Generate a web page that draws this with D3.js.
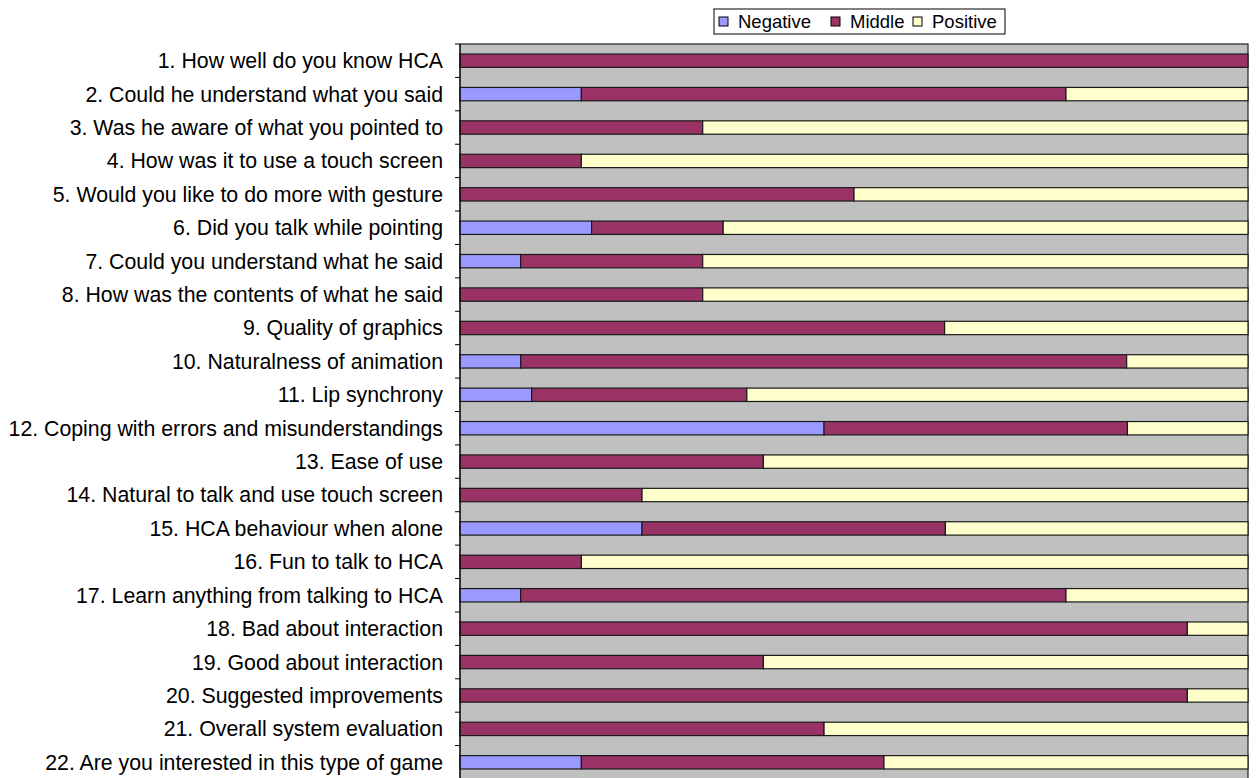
<!DOCTYPE html>
<html>
<head>
<meta charset="utf-8">
<script src="https://cdn.jsdelivr.net/npm/d3@7"></script>
<style>
  body { margin: 0; background: #fff; }
  svg { display: block; font-family: "Liberation Sans", Arial, Helvetica, sans-serif; }
</style>
</head>
<body>
<div id="chart"></div>
<script>
// questions, top to bottom
const questions = [
  "1. How well do you know HCA",
  "2. Could he understand what you said",
  "3. Was he aware of what you pointed to",
  "4. How was it to use a touch screen",
  "5. Would you like to do more with gesture",
  "6. Did you talk while pointing",
  "7. Could you understand what he said",
  "8. How was the contents of what he said",
  "9. Quality of graphics",
  "10. Naturalness of animation",
  "11. Lip synchrony",
  "12. Coping with errors and misunderstandings",
  "13. Ease of use",
  "14. Natural to talk and use  touch screen",
  "15. HCA behaviour when alone",
  "16. Fun to talk to HCA",
  "17. Learn anything from talking to HCA",
  "18. Bad about interaction",
  "19. Good about interaction",
  "20. Suggested improvements",
  "21. Overall system evaluation",
  "22. Are you interested in this type of game"
];

// share of answers, percent
const negative = [0, 15.4, 0, 0, 0, 16.7, 7.7, 0, 0, 7.7, 9.1, 46.2, 0, 0, 23.1, 0, 7.7, 0, 0, 0, 0, 15.4];
const middle   = [100, 61.5, 30.8, 15.4, 50, 16.7, 23.1, 30.8, 61.5, 76.9, 27.3, 38.5, 38.5, 23.1, 38.5, 15.4, 69.2, 92.3, 38.5, 92.3, 46.2, 38.4];
const positive = [0, 23.1, 69.2, 84.6, 50, 66.6, 69.2, 69.2, 38.5, 15.4, 63.6, 15.3, 61.5, 76.9, 38.4, 84.6, 23.1, 7.7, 61.5, 7.7, 53.8, 46.2];

const seriesNames = ["Negative", "Middle", "Positive"];
const seriesColors = ["#9999FF", "#993366", "#FFFFCC"];

const width = 1258, height = 778;
const margin = { top: 44, left: 460 };
const plotW = 1248 - margin.left;
const plotH = 735;

const table = questions.map((q, i) => ({
  q, Negative: negative[i], Middle: middle[i], Positive: positive[i]
}));

const stacked = d3.stack().keys(seriesNames)(table);

const x = d3.scaleLinear().domain([0, 100]).range([0, plotW]);
const y = d3.scaleBand().domain(questions).range([0, plotH]).paddingInner(0.6).paddingOuter(0.3);

const svg = d3.select("#chart").append("svg")
  .attr("width", width).attr("height", height);

const g = svg.append("g").attr("transform", `translate(${margin.left},${margin.top})`);

// plot background
g.append("rect")
  .attr("width", plotW).attr("height", plotH)
  .attr("fill", "#C0C0C0")
  .attr("stroke", "#222").attr("stroke-width", 1.2);

// bars
g.selectAll("g.series")
  .data(stacked)
  .join("g")
  .attr("class", "series")
  .attr("fill", (d, i) => seriesColors[i])
  .selectAll("rect")
  .data(d => d.filter(s => s[1] - s[0] > 0))
  .join("rect")
  .attr("x", d => x(d[0]))
  .attr("width", d => x(d[1]) - x(d[0]))
  .attr("y", d => y(d.data.q))
  .attr("height", y.bandwidth())
  .attr("stroke", "#1a1a1a")
  .attr("stroke-width", 1.2);

// category axis with ticks between bands
const step = y.step();
const tickYs = d3.range(0, questions.length + 1).map(i => i * step);
g.selectAll("line.tick")
  .data(tickYs)
  .join("line")
  .attr("class", "tick")
  .attr("x1", -5).attr("x2", 0)
  .attr("y1", d => d).attr("y2", d => d)
  .attr("stroke", "#000");

g.append("line")
  .attr("x1", 0).attr("x2", 0).attr("y1", 0).attr("y2", plotH)
  .attr("stroke", "#000");

g.selectAll("text.label")
  .data(questions)
  .join("text")
  .attr("class", "label")
  .attr("x", -17)
  .attr("y", d => y(d) + y.bandwidth() / 2)
  .attr("dy", "0.35em")
  .attr("text-anchor", "end")
  .attr("font-size", 21.3)
  .attr("fill", "#000")
  .text(d => d);

// legend
const legend = svg.append("g").attr("transform", "translate(714,9)");
legend.append("rect")
  .attr("width", 291).attr("height", 25)
  .attr("fill", "#fff").attr("stroke", "#000").attr("stroke-width", 1);

const legendPos = [5, 117, 199];
seriesNames.forEach((name, i) => {
  const item = legend.append("g").attr("transform", `translate(${legendPos[i]},0)`);
  item.append("rect")
    .attr("x", 0).attr("y", 8).attr("width", 9).attr("height", 9)
    .attr("fill", seriesColors[i]).attr("stroke", "#000").attr("stroke-width", 1);
  item.append("text")
    .attr("x", 19).attr("y", 13).attr("dy", "0.35em")
    .attr("font-size", 18.5)
    .text(name);
});
</script>
</body>
</html>
